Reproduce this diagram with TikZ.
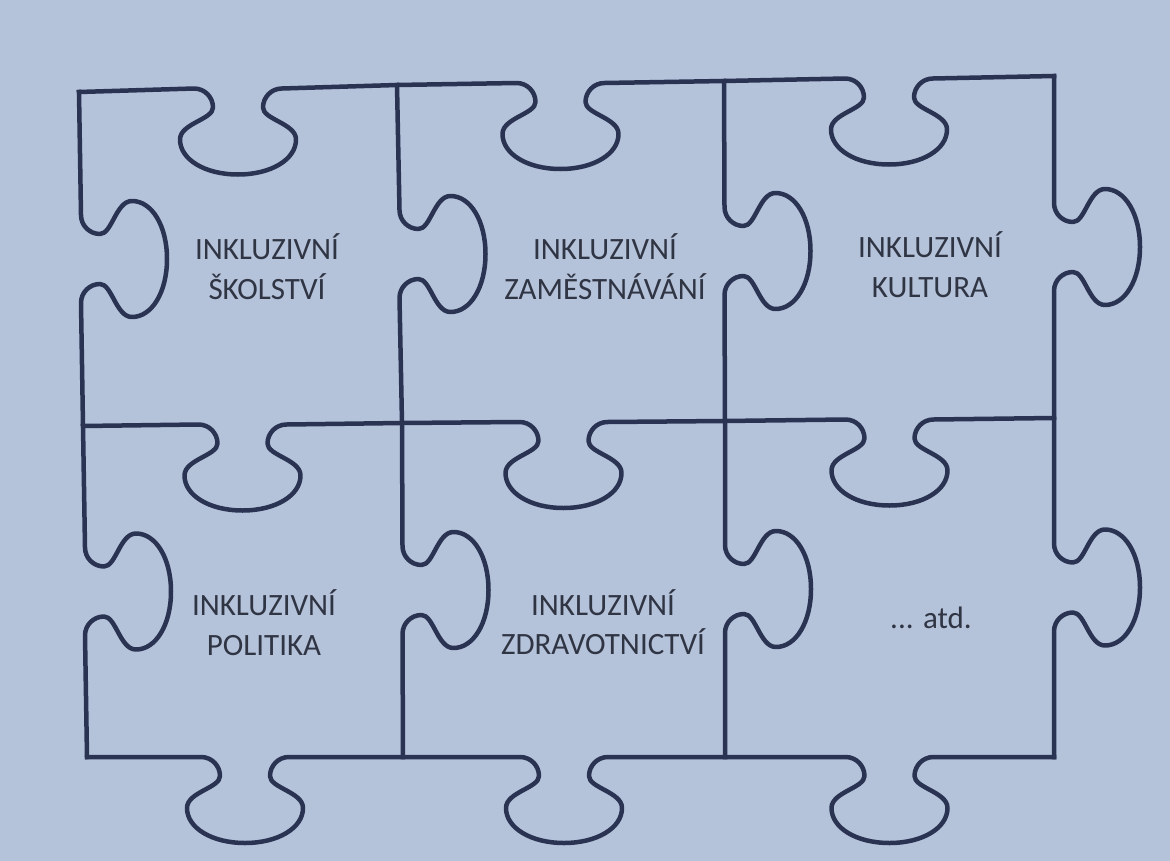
\documentclass[tikz,border=0pt]{standalone}
\usepackage{fontspec}
\setmainfont{Carlito}
\usetikzlibrary{calc}
\definecolor{bg}{RGB}{180,194,218}
\definecolor{edge}{RGB}{42,52,82}
\definecolor{txt}{RGB}{48,53,68}
\tikzset{
  piece/.style={draw=edge, line width=4.5bp, line cap=rect, line join=round},
  lbl/.style={font=\fontsize{31bp}{36bp}\selectfont, text=txt, anchor=base, inner sep=0pt},
  hk/.style={insert path={
    -- ([shift={(#1)}]-44,0)
    .. controls ([shift={(#1)}]-33,0) and ([shift={(#1)}]-25,9) .. ([shift={(#1)}]-25,19)
    .. controls ([shift={(#1)}]-25,31) and ([shift={(#1)}]-58,35) .. ([shift={(#1)}]-58,51)
    .. controls ([shift={(#1)}]-58,71) and ([shift={(#1)}]-33,86) .. ([shift={(#1)}]0,86)
    .. controls ([shift={(#1)}]33,86) and ([shift={(#1)}]58,71) .. ([shift={(#1)}]58,51)
    .. controls ([shift={(#1)}]58,35) and ([shift={(#1)}]25,31) .. ([shift={(#1)}]25,19)
    .. controls ([shift={(#1)}]25,9) and ([shift={(#1)}]33,0) .. ([shift={(#1)}]44,0)
  }},
  vk/.style={insert path={
    -- ([shift={(#1)}]0,-44)
    .. controls ([shift={(#1)}]0,-33) and ([shift={(#1)}]9,-25) .. ([shift={(#1)}]19,-25)
    .. controls ([shift={(#1)}]31,-25) and ([shift={(#1)}]35,-58) .. ([shift={(#1)}]51,-58)
    .. controls ([shift={(#1)}]71,-58) and ([shift={(#1)}]86,-33) .. ([shift={(#1)}]86,0)
    .. controls ([shift={(#1)}]86,33) and ([shift={(#1)}]71,58) .. ([shift={(#1)}]51,58)
    .. controls ([shift={(#1)}]35,58) and ([shift={(#1)}]31,25) .. ([shift={(#1)}]19,25)
    .. controls ([shift={(#1)}]9,25) and ([shift={(#1)}]0,33) .. ([shift={(#1)}]0,44)
  }},
}
\begin{document}
\begin{tikzpicture}[x=1bp,y=-1bp]
\fill[bg] (0,0) rectangle (1170,861);
\useasboundingbox (0,0) rectangle (1170,861);
% grid junctions
\coordinate (P00) at (79,92);   \coordinate (P10) at (397,85);
\coordinate (P20) at (724,81);  \coordinate (P30) at (1054,76);
\coordinate (P01) at (83,426);  \coordinate (P11) at (402,423);
\coordinate (P21) at (725,421); \coordinate (P31) at (1054,418);
\coordinate (P02) at (87,757);  \coordinate (P12) at (403,757);
\coordinate (P22) at (725,757); \coordinate (P32) at (1054,757);
% knob centres on horizontal lines
\foreach \r in {0,1,2}{
  \foreach \c/\d in {0/1,1/2,2/3}{
    \coordinate (H\c\r) at ($(P\c\r)!0.5!(P\d\r)$);
  }
}
% tab centres on vertical lines
\foreach \c in {0,1,2,3}{
  \foreach \r/\s in {0/1,1/2}{
    \coordinate (V\c\r) at ($(P\c\r)!0.5!(P\c\s)$);
  }
}
% horizontal lines
\foreach \r in {0,1,2}{
  \draw[piece] (P0\r) [hk=H0\r] -- (P1\r) [hk=H1\r] -- (P2\r) [hk=H2\r] -- (P3\r);
}
% vertical lines
\foreach \c in {0,1,2,3}{
  \draw[piece] (P\c0) [vk=V\c0] -- (P\c1) [vk=V\c1] -- (P\c2);
}
% labels
\node[lbl] (t1a) at (267,259) {INKLUZIVNÍ};
\node[lbl] (t1b) at (267,299) {ŠKOLSTVÍ};
\node[lbl] (t2a) at (605,259) {INKLUZIVNÍ};
\node[lbl] (t2b) at (605,299) {ZAMĚSTNÁVÁNÍ};
\node[lbl] (t3a) at (930,257) {INKLUZIVNÍ};
\node[lbl] (t3b) at (930,297) {KULTURA};
\node[lbl] (t4a) at (264,615) {INKLUZIVNÍ};
\node[lbl] (t4b) at (264,655) {POLITIKA};
\node[lbl] (t5a) at (603,615) {INKLUZIVNÍ};
\node[lbl] (t5b) at (603,654) {ZDRAVOTNICTVÍ};
\node[lbl] (t6) at (931,628) {... atd.};
\end{tikzpicture}
\end{document}
